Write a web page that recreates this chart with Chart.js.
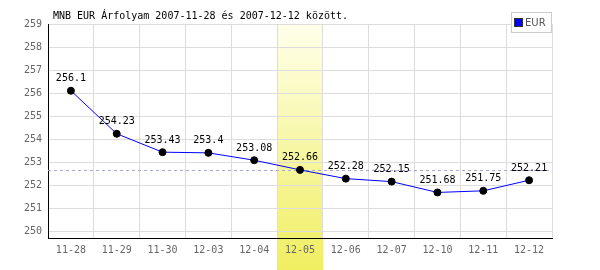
<!DOCTYPE html>
<html><head><meta charset="utf-8">
<script src="https://cdn.jsdelivr.net/npm/chart.js@4/dist/chart.umd.min.js"></script>
<style>html,body{margin:0;padding:0;background:#fff}#wrap{width:600px;height:270px}</style>
</head><body><div id="wrap"><canvas id="c" width="600" height="270"></canvas></div>
<script>
const categories = ["11-28","11-29","11-30","12-03","12-04","12-05","12-06","12-07","12-10","12-11","12-12"];
const eurValues = [256.1, 254.23, 253.43, 253.4, 253.08, 252.66, 252.28, 252.15, 251.68, 251.75, 252.21];
const yTicks = [250,251,252,253,254,255,256,257,258,259];
const highlightIndex = 5;
const refValue = 252.66;
const titleText = "MNB EUR Árfolyam 2007-11-28 és 2007-12-12 között.";
const seriesName = "EUR";

const MONO = "10px 'DejaVu Sans Mono', monospace";

const bandPlugin = {
  id: 'band',
  beforeDraw(chart) {
    const {ctx, chartArea, scales} = chart;
    const x = scales.x;
    const c = x.getPixelForValue(highlightIndex);
    const w = (chartArea.right - chartArea.left) / categories.length;
    const g = ctx.createLinearGradient(0, chartArea.top, 0, chart.height);
    g.addColorStop(0, 'rgba(255,255,235,1)');
    g.addColorStop(1, 'rgba(240,238,96,1)');
    ctx.save();
    ctx.fillStyle = g;
    ctx.fillRect(Math.round(c - w/2), chartArea.top, Math.round(w), chart.height - chartArea.top);
    ctx.restore();
  },
  beforeDatasetsDraw(chart) {
    const {ctx, chartArea, scales} = chart;
    const y = Math.round(scales.y.getPixelForValue(refValue)) + 0.5;
    ctx.save();
    ctx.strokeStyle = '#a8a8d8';
    ctx.lineWidth = 1;
    ctx.setLineDash([3,3]);
    ctx.beginPath();
    ctx.moveTo(chartArea.left, y);
    ctx.lineTo(chartArea.right, y);
    ctx.stroke();
    ctx.restore();
  },
  afterDraw(chart) {
    const {ctx} = chart;
    const meta = chart.getDatasetMeta(0);
    ctx.save();
    ctx.font = MONO;
    ctx.fillStyle = '#000';
    ctx.textAlign = 'center';
    ctx.textBaseline = 'middle';
    meta.data.forEach((pt, i) => {
      ctx.fillText(String(eurValues[i]), pt.x, pt.y - 12);
    });
    // title
    ctx.textAlign = 'left';
    ctx.fillText(titleText, 53, 16);
    // legend
    ctx.fillStyle = '#fff';
    ctx.fillRect(511.5, 12.5, 40, 20);
    ctx.strokeStyle = '#cccccc';
    ctx.lineWidth = 1;
    ctx.strokeRect(511.5, 12.5, 40, 20);
    ctx.fillStyle = '#0000ff';
    ctx.fillRect(515, 19, 7, 7);
    ctx.strokeStyle = '#333';
    ctx.strokeRect(514.5, 18.5, 8, 8);
    ctx.fillStyle = '#555';
    ctx.font = "10px 'DejaVu Sans', sans-serif";
    ctx.textBaseline = 'middle';
    ctx.fillText(seriesName, 525, 23);
    ctx.restore();
  }
};

new Chart(document.getElementById('c'), {
  type: 'line',
  data: {
    labels: categories,
    datasets: [{
      label: seriesName,
      data: eurValues,
      borderColor: '#0000ff',
      borderWidth: 1,
      tension: 0,
      pointRadius: 3.5,
      pointBackgroundColor: '#000',
      pointBorderColor: '#000',
      pointBorderWidth: 1,
      fill: false
    }]
  },
  options: {
    responsive: false,
    animation: false,
    devicePixelRatio: 1,
    layout: {padding: {top: 24, right: 48, left: 0, bottom: 0}},
    plugins: {legend: {display: false}, title: {display: false}, tooltip: {enabled: false}},
    scales: {
      x: {
        type: 'category',
        offset: true,
        grid: {offset: true, color: '#dddddd', drawTicks: false},
        border: {color: '#000', width: 1},
        ticks: {font: {family: "'DejaVu Sans Mono', monospace", size: 10}, color: '#666', padding: 6, maxRotation: 0, autoSkip: false},
        afterFit(s) { s.height = 32; }
      },
      y: {
        min: 249.7,
        max: 259,
        afterBuildTicks(s) { s.ticks = yTicks.map(v => ({value: v})); },
        grid: {color: '#dddddd', drawTicks: false},
        border: {color: '#000', width: 1},
        ticks: {font: {family: "'DejaVu Sans Mono', monospace", size: 10}, color: '#666', padding: 6},
        afterFit(s) { s.width = 48; }
      }
    }
  },
  plugins: [bandPlugin]
});
</script>
</body></html>
